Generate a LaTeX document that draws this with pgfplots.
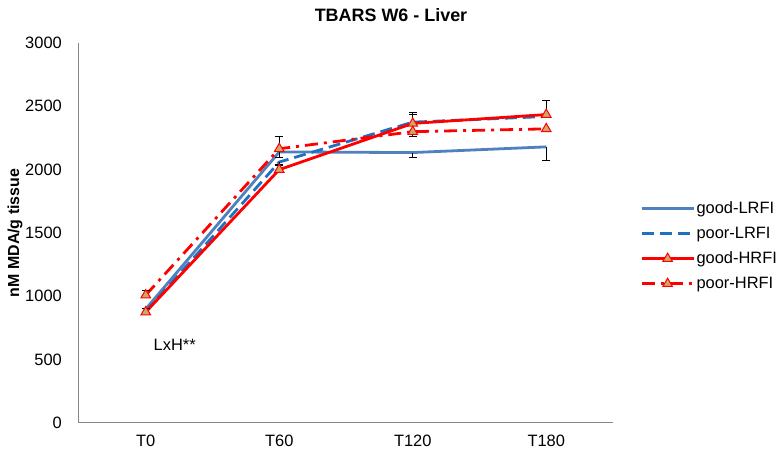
\documentclass[border=0pt]{standalone}
\usepackage{fontspec}
\setmainfont{Liberation Sans}
\usepackage{pgfplots}
\pgfplotsset{compat=1.18}
\definecolor{lblue}{HTML}{4F81BD}
\definecolor{dblue}{HTML}{1F70C1}
\definecolor{tanfill}{HTML}{CDA868}
\definecolor{axgray}{HTML}{868686}
\begin{document}
\begin{tikzpicture}[x=1bp,y=1bp]
\path[use as bounding box] (-79,-29) rectangle (704,423);
\begin{axis}[
  at={(0,0)}, anchor=south west,
  scale only axis, width=534bp, height=380bp,
  xmin=-0.5, xmax=3.5, ymin=0, ymax=3000,
  xtick={0,1,2,3}, xticklabels={T0,T60,T120,T180},
  ytick={0,500,...,3000},
  axis x line*=bottom, axis y line*=left,
  axis line style={axgray, line width=1bp},
  x axis line style={-}, y axis line style={-},
  major tick length=0pt,
  tick label style={font=\fontsize{16.5}{19}\selectfont, /pgf/number format/assume math mode=true},
  yticklabel style={/pgf/number format/1000 sep={}, inner sep=0pt, anchor=east, xshift=-17bp},
  xticklabel style={inner sep=0pt, anchor=north, yshift=-12bp},
  clip=false,
  legend style={draw=none, at={(1.0506,0.466)}, anchor=west, inner sep=0pt,
    font=\fontsize{16.5}{19}\selectfont, row sep=9bp, fill=none,
    nodes={inner sep=1.5bp}},
  legend cell align=left,
  legend image code/.code={\draw[#1] (0bp,0bp) -- (26bp,0bp) -- (52bp,0bp);
     \draw[#1, draw=none] plot coordinates {(26bp,0bp)};},
  error bars/error bar style={black, line width=0.9bp, solid},
  error bars/error mark options={rotate=90, mark size=4bp, black, line width=0.9bp, solid},
]
% good-LRFI
\addplot[lblue, line width=2.8bp, no marks,
  error bars/.cd, y dir=both, y explicit]
 coordinates {(0,900) -= (0,30) (1,2140) -= (0,40) (2,2135) -= (0,35) (3,2180) -= (0,105)};
\addlegendentry{good-LRFI}
% poor-LRFI
\addplot[dblue, line width=2.8bp, no marks, dash pattern=on 12bp off 6bp,
  error bars/.cd, y dir=both, y explicit]
 coordinates {(0,880) (1,2060) -= (0,30) (2,2375) += (0,60) (3,2420)};
\addlegendentry{poor-LRFI}
% good-HRFI
\addplot[red, line width=2.8bp, mark=triangle*, mark size=5.5bp,
  mark options={solid, fill=tanfill, draw=red, line width=1bp},
  error bars/.cd, y dir=both, y explicit]
 coordinates {(0,876) += (0,30) (1,2000) += (0,40) (2,2365) += (0,90) (3,2435) += (0,115)};
\addlegendentry{good-HRFI}
% poor-HRFI
\addplot[red, line width=2.8bp, mark=triangle*, mark size=5.5bp,
  dash pattern=on 13bp off 6bp on 3bp off 6bp,
  mark options={solid, fill=tanfill, draw=red, line width=1bp},
  error bars/.cd, y dir=both, y explicit]
 coordinates {(0,1010) += (0,35) (1,2165) += (0,100) (2,2300) -= (0,40) (3,2322)};
\addlegendentry{poor-HRFI}
\node[font=\fontsize{16.5}{19}\selectfont] at (axis cs:0.217,616) {LxH**};
\end{axis}
\node[font=\bfseries\fontsize{18}{20}\selectfont] at (312,408) {TBARS W6 - Liver};
\node[font=\bfseries\fontsize{16}{18}\selectfont, rotate=90] at (-64,190) {nM MDA/g tissue};
\end{tikzpicture}
\end{document}
